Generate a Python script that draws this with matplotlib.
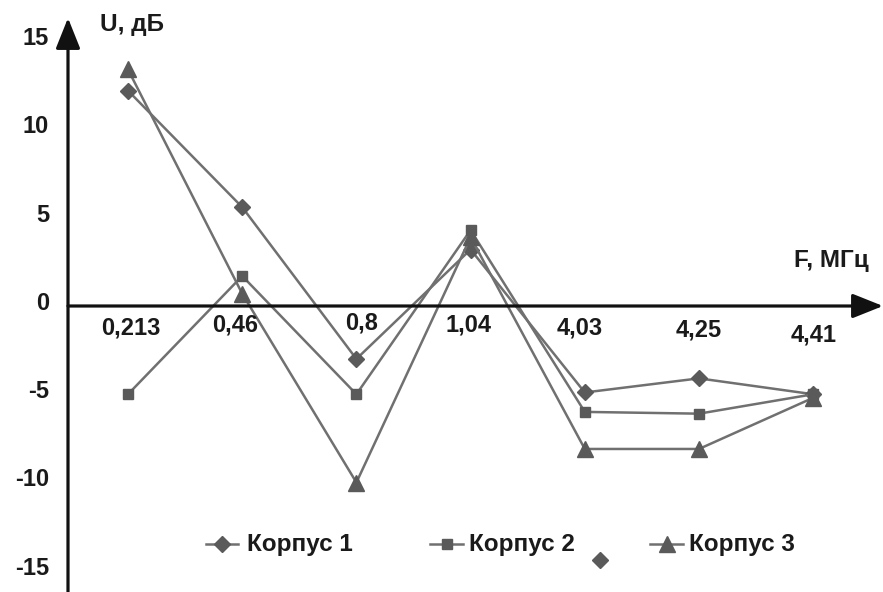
import numpy as np
import matplotlib.pyplot as plt

plt.rcParams['font.family'] = ['Liberation Sans', 'DejaVu Sans']
plt.rcParams['font.weight'] = 'bold'

# data
freq_labels = ['0,213', '0,46', '0,8', '1,04', '4,03', '4,25', '4,41']
korpus1 = [12.2, 5.6, -3.0, 3.2, -4.9, -4.1, -5.0]
korpus2 = [-5.0, 1.7, -5.0, 4.3, -6.0, -6.1, -5.0]
korpus3 = [13.4, 0.7, -10.0, 3.9, -8.1, -8.1, -5.2]
yticks = [15, 10, 5, 0, -5, -10, -15]
series_names = ['Корпус 1', 'Корпус 2', 'Корпус 3']

W, H = 883, 592
fig = plt.figure(figsize=(W / 100, H / 100), dpi=100)
ax = fig.add_axes([0, 0, 1, 1])
ax.set_axis_off()

# pixel layout -> data limits (x: category index, y: dB)
x0, dx = 128, 114.2
y0, dy = 306, 17.65
ax.set_xlim(-x0 / dx, (W - x0) / dx)
ax.set_ylim((y0 - H) / dy, y0 / dy)

lc = '#707070'
mc = '#5a5a5a'
xs = np.arange(len(freq_labels))
styles = [('D', 8), ('s', 7), ('^', 11.5)]
for vals, (m, ms) in zip([korpus1, korpus2, korpus3], styles):
    ax.plot(xs, vals, color=lc, lw=1.8, marker=m, markersize=ms,
            markerfacecolor=mc, markeredgecolor=mc, zorder=3)

# axes with arrows
arrow = dict(arrowstyle='-|>,head_length=0.75,head_width=0.3',
             mutation_scale=25, lw=2.3, color='#111111', shrinkA=0, shrinkB=0)
ax_x = (68 - x0) / dx
ax.annotate('', xy=(ax_x, (y0 - 18) / dy), xytext=(ax_x, (y0 - H - 5) / dy),
            arrowprops=arrow, annotation_clip=False)
ax.annotate('', xy=((W - x0) / dx, 0), xytext=(ax_x, 0),
            arrowprops=arrow, annotation_clip=False)

# y tick labels
for v in yticks:
    ax.text((49 - x0) / dx, v + 0.15, str(v), ha='right', va='center',
            fontsize=17, color='#1a1a1a')

# x tick labels, slightly staggered as in the original
lab_dx = [3, -7, 5, -2, -5, 0, 0]
lab_dy = [-22, -19, -17, -19, -22, -24, -29]
for i, lab in enumerate(freq_labels):
    ax.annotate(lab, xy=(i, 0), xytext=(lab_dx[i], lab_dy[i]),
                textcoords='offset pixels', ha='center', va='center',
                fontsize=17, color='#1a1a1a')

ax.text((100 - x0) / dx, (y0 - 25) / dy, 'U, дБ', ha='left', va='center',
        fontsize=17.5, color='#1a1a1a')
ax.text((794 - x0) / dx, (y0 - 260) / dy, 'F, МГц', ha='left', va='center',
        fontsize=17.5, color='#1a1a1a')

# legend drawn in pixel coordinates on an overlay
lax = fig.add_axes([0, 0, 1, 1])
lax.set_axis_off()
lax.set_xlim(0, W)
lax.set_ylim(H, 0)
leg_line = [(206, 238), (430, 463), (650, 683)]
leg_text = [247, 469, 689]
leg_y = 544
for name, (m, ms), (a, b), tx in zip(series_names, styles, leg_line, leg_text):
    lax.plot([a, b], [leg_y, leg_y], color=lc, lw=1.8)
    lax.plot([(a + b) / 2], [leg_y], marker=m, markersize=ms,
             markerfacecolor=mc, markeredgecolor=mc, color=lc)
    lax.text(tx, leg_y, name, ha='left', va='center', fontsize=17.5,
             color='#1a1a1a')
# stray marker in the original
lax.plot([600], [560], marker='D', markersize=8, markerfacecolor=mc,
         markeredgecolor=mc)

fig.savefig('out.png', dpi=100)
